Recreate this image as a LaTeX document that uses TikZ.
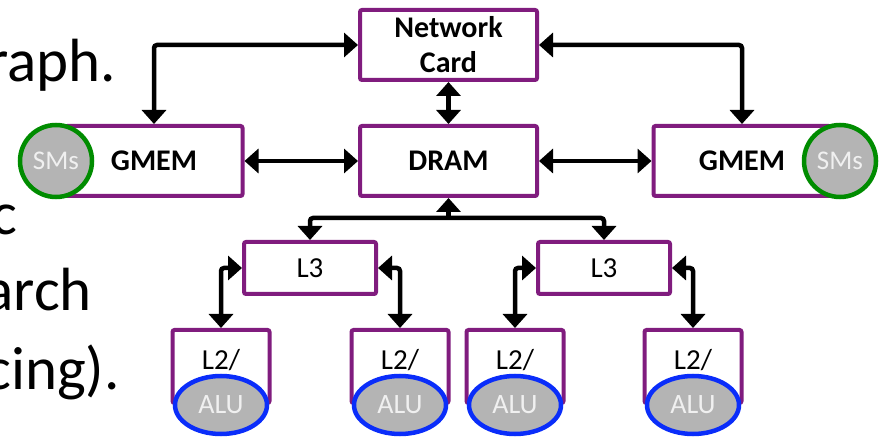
\documentclass[tikz,border=0pt]{standalone}
\usepackage{fontspec}
\setmainfont{Carlito}
\usetikzlibrary{arrows.meta,shapes.geometric}
\definecolor{boxpurple}{RGB}{128,28,126}
\definecolor{smgreen}{RGB}{0,140,0}
\definecolor{alublue}{RGB}{10,45,250}
\definecolor{unitgray}{RGB}{180,180,180}
\definecolor{unittext}{RGB}{240,240,240}

\begin{document}
\begin{tikzpicture}[x=1pt,y=-1pt, >={Triangle[width=24pt,length=14pt]},
  every node/.style={font=\fontsize{29}{35}\selectfont},
  blk/.style={draw=boxpurple,line width=4pt,fill=white,rounded corners=2pt,minimum width=177pt,minimum height=70pt,align=center,inner sep=0pt,font=\bfseries\fontsize{30}{35}\selectfont},
  cache/.style={draw=boxpurple,line width=4pt,fill=white,rounded corners=2pt,inner sep=0pt},
  sms/.style={circle,draw=smgreen,fill=unitgray,line width=4.5pt,minimum size=72pt,inner sep=0pt,text=unittext,font=\fontsize{27}{30}\selectfont},
  alu/.style={ellipse,draw=alublue,fill=unitgray,line width=4.5pt,minimum width=92pt,minimum height=58pt,inner sep=0pt,text=unittext,font=\fontsize{28}{30}\selectfont},
  link/.style={<->,line width=4.5pt,rounded corners=3pt},
  slide/.style={font=\fontsize{61}{74}\selectfont,anchor=base east,inner sep=0pt}]
\useasboundingbox (0,0) rectangle (881,438);
% text of the slide behind
\node[slide] (t1) at (116,82) {raph.};
\node[slide] (t2) at (17,235) {c};
\node[slide] (t3) at (92,311) {arch};
\node[slide] (t4) at (120,389) {cing).};
% memories
\node[blk] (net) at (448.5,45) {Network\\Card};
\node[blk] (dram) at (448.5,161) {DRAM};
\node[blk] (gml) at (154,161) {GMEM};
\node[blk] (gmr) at (742,161) {GMEM};
\node[sms] (sml) at (56,161) {SMs};
\node[sms] (smr) at (840,161) {SMs};
% caches
\node[cache,minimum width=132pt,minimum height=52pt] (lta) at (310,268) {L3};
\node[cache,minimum width=132pt,minimum height=52pt] (ltb) at (604,268) {L3};
\node[cache,minimum width=97pt,minimum height=73pt] (la) at (221,366.5) {};
\node[cache,minimum width=97pt,minimum height=73pt] (lb) at (400,366.5) {};
\node[cache,minimum width=97pt,minimum height=73pt] (lc) at (515,366.5) {};
\node[cache,minimum width=97pt,minimum height=73pt] (ld) at (693,366.5) {};
\node (ta) at (221,360) {L2/};
\node (tb) at (400,360) {L2/};
\node (tc) at (515,360) {L2/};
\node (td) at (693,360) {L2/};
\node[alu] (ua) at (221,405) {ALU};
\node[alu] (ub) at (400,405) {ALU};
\node[alu] (uc) at (515,405) {ALU};
\node[alu] (ud) at (693,405) {ALU};
% connections
\draw[link] (net.west) -| (gml.north);
\draw[link] (net.east) -| (gmr.north);
\draw[link] (net) -- (dram);
\draw[link] (gml) -- (dram);
\draw[link] (dram) -- (gmr);
\coordinate (bus) at (448.5,218);
\draw[link] (lta.north) |- (bus) -| (ltb.north);
\draw[->,line width=4.5pt] (bus) -- (dram.south);
\draw[link] (lta.west) -| (la.north);
\draw[link] (lta.east) -| (lb.north);
\draw[link] (ltb.west) -| (lc.north);
\draw[link] (ltb.east) -| (ld.north);
\end{tikzpicture}
\end{document}
